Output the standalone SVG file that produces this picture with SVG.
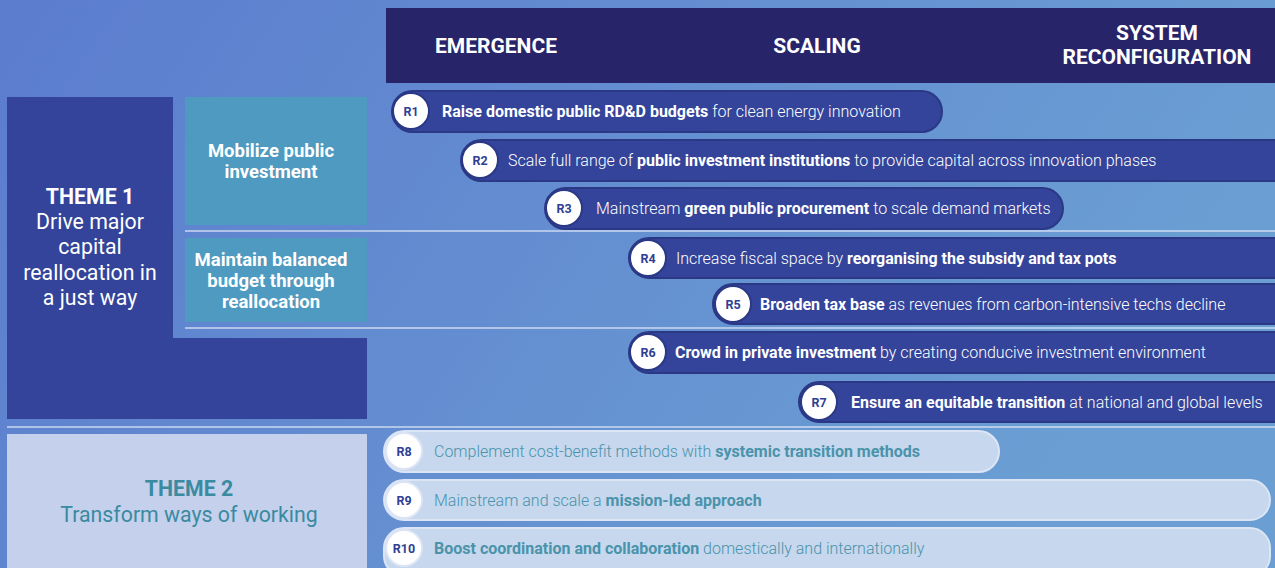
<svg xmlns="http://www.w3.org/2000/svg" width="1275" height="568" viewBox="0 0 1275 568">
<defs>
<linearGradient id="bg" x1="0" y1="0" x2="1" y2="0.3">
<stop offset="0" stop-color="#5c7cce"/>
<stop offset="1" stop-color="#6b9fd3"/>
</linearGradient>
</defs>
<style>
text{font-family:Roboto,"Liberation Sans",sans-serif}
.hdr{fill:#fff;font-weight:700;font-size:21px;text-anchor:middle}
.th{fill:#fff;font-size:21.3px;text-anchor:middle}
.sub{fill:#fff;font-weight:700;font-size:18.5px;text-anchor:middle}
.pd{fill:#33449a;stroke:#2a3885;stroke-width:2}
.pl{fill:#c6d7ee;stroke:#dce5f5;stroke-width:2}
.cd{fill:#fff;stroke:#2a3885;stroke-width:2}
.cl{fill:#fff;stroke:#dce5f5;stroke-width:2}
.rl{fill:#2f3f94;font-weight:700;font-size:12.5px;text-anchor:middle}
.td{fill:#fff;font-size:16px;font-weight:300}
.tl{fill:#4a93aa;font-size:16px;font-weight:300}
.b{font-weight:700}
.sep{stroke:#e6ecf8;stroke-width:1.5;opacity:0.8}
</style>
<rect width="1275" height="568" fill="url(#bg)"/>
<g id="header">
<rect x="386" y="8" width="889" height="75" fill="#28246a"/>
<text class="hdr" x="496" y="53">EMERGENCE</text>
<text class="hdr" x="817" y="53">SCALING</text>
<text class="hdr" x="1157" y="40">SYSTEM</text>
<text class="hdr" x="1157" y="64">RECONFIGURATION</text>
</g>
<g id="theme1">
<path d="M7 97H173V338H367V419H7Z" fill="#33449a"/>
<text class="th" x="90" y="204" font-weight="700">THEME 1</text>
<text class="th" x="90" y="229">Drive major</text>
<text class="th" x="90" y="254">capital</text>
<text class="th" x="90" y="280">reallocation in</text>
<text class="th" x="90" y="305">a just way</text>
</g>
<g id="mobilize">
<rect x="185" y="97" width="182" height="128" fill="#4f9ac0"/>
<text class="sub" x="271" y="157">Mobilize public</text>
<text class="sub" x="271" y="178">investment</text>
</g>
<g id="maintain">
<rect x="185" y="238" width="182" height="84" fill="#4f9ac0"/>
<text class="sub" x="271" y="266">Maintain balanced</text>
<text class="sub" x="271" y="287">budget through</text>
<text class="sub" x="271" y="308">reallocation</text>
</g>
<g id="theme2">
<rect x="7" y="434" width="360" height="134" fill="#c4d0ec"/>
<text class="th" x="189" y="496" font-weight="700" style="fill:#3a8aa0">THEME 2</text>
<text class="th" x="189" y="522" style="fill:#3a8aa0">Transform ways of working</text>
</g>
<g id="connectors">
<line class="sep" x1="185" y1="231" x2="1275" y2="231"/>
<line class="sep" x1="185" y1="328" x2="1275" y2="328"/>
<line class="sep" x1="7" y1="427" x2="1275" y2="427"/>
</g>
<g id="R1">
<rect class="pd" x="392" y="91" width="550" height="41" rx="20.5"/>
<circle class="cd" cx="411" cy="111" r="18"/>
<text class="rl" x="411" y="116">R1</text>
<text class="td" x="442" y="117"><tspan class="b">Raise domestic public RD&amp;D budgets</tspan> for clean energy innovation</text>
</g>
<g id="R2">
<rect class="pd" x="461" y="140" width="834" height="41" rx="20.5"/>
<circle class="cd" cx="480" cy="160" r="18"/>
<text class="rl" x="480" y="165">R2</text>
<text class="td" x="508" y="166">Scale full range of <tspan class="b">public investment institutions</tspan> to provide capital across innovation phases</text>
</g>
<g id="R3">
<rect class="pd" x="545" y="188" width="518" height="41" rx="20.5"/>
<circle class="cd" cx="564" cy="208" r="18"/>
<text class="rl" x="564" y="213">R3</text>
<text class="td" x="596" y="214">Mainstream <tspan class="b">green public procurement</tspan> to scale demand markets</text>
</g>
<g id="R4">
<rect class="pd" x="629" y="238" width="666" height="40" rx="20"/>
<circle class="cd" cx="648" cy="258" r="18"/>
<text class="rl" x="648" y="263">R4</text>
<text class="td" x="676" y="264">Increase fiscal space by <tspan class="b">reorganising the subsidy and tax pots</tspan></text>
</g>
<g id="R5">
<rect class="pd" x="713" y="284" width="582" height="40" rx="20"/>
<circle class="cd" cx="733" cy="304" r="18"/>
<text class="rl" x="733" y="309">R5</text>
<text class="td" x="760" y="310"><tspan class="b">Broaden tax base</tspan> as revenues from carbon-intensive techs decline</text>
</g>
<g id="R6">
<rect class="pd" x="629" y="332" width="666" height="41" rx="20.5"/>
<circle class="cd" cx="648" cy="352" r="18"/>
<text class="rl" x="648" y="357">R6</text>
<text class="td" x="675" y="358"><tspan class="b">Crowd in private investment</tspan> by creating conducive investment environment</text>
</g>
<g id="R7">
<rect class="pd" x="799" y="382" width="496" height="40" rx="20"/>
<circle class="cd" cx="819" cy="402" r="18"/>
<text class="rl" x="819" y="407">R7</text>
<text class="td" x="851" y="408"><tspan class="b">Ensure an equitable transition</tspan> at national and global levels</text>
</g>
<g id="R8">
<rect class="pl" x="384" y="431" width="615" height="41" rx="20.5"/>
<circle class="cl" cx="404" cy="451" r="18"/>
<text class="rl" x="404" y="456">R8</text>
<text class="tl" x="434" y="457">Complement cost-benefit methods with <tspan class="b">systemic transition methods</tspan></text>
</g>
<g id="R9">
<rect class="pl" x="384" y="480" width="886" height="40" rx="20"/>
<circle class="cl" cx="404" cy="500" r="18"/>
<text class="rl" x="404" y="505">R9</text>
<text class="tl" x="434" y="506">Mainstream and scale a <tspan class="b">mission-led approach</tspan></text>
</g>
<g id="R10">
<rect class="pl" x="384" y="528" width="886" height="48" rx="20"/>
<circle class="cl" cx="404" cy="548" r="18"/>
<text class="rl" x="404" y="553">R10</text>
<text class="tl" x="434" y="554"><tspan class="b">Boost coordination and collaboration</tspan> domestically and internationally</text>
</g>
</svg>
